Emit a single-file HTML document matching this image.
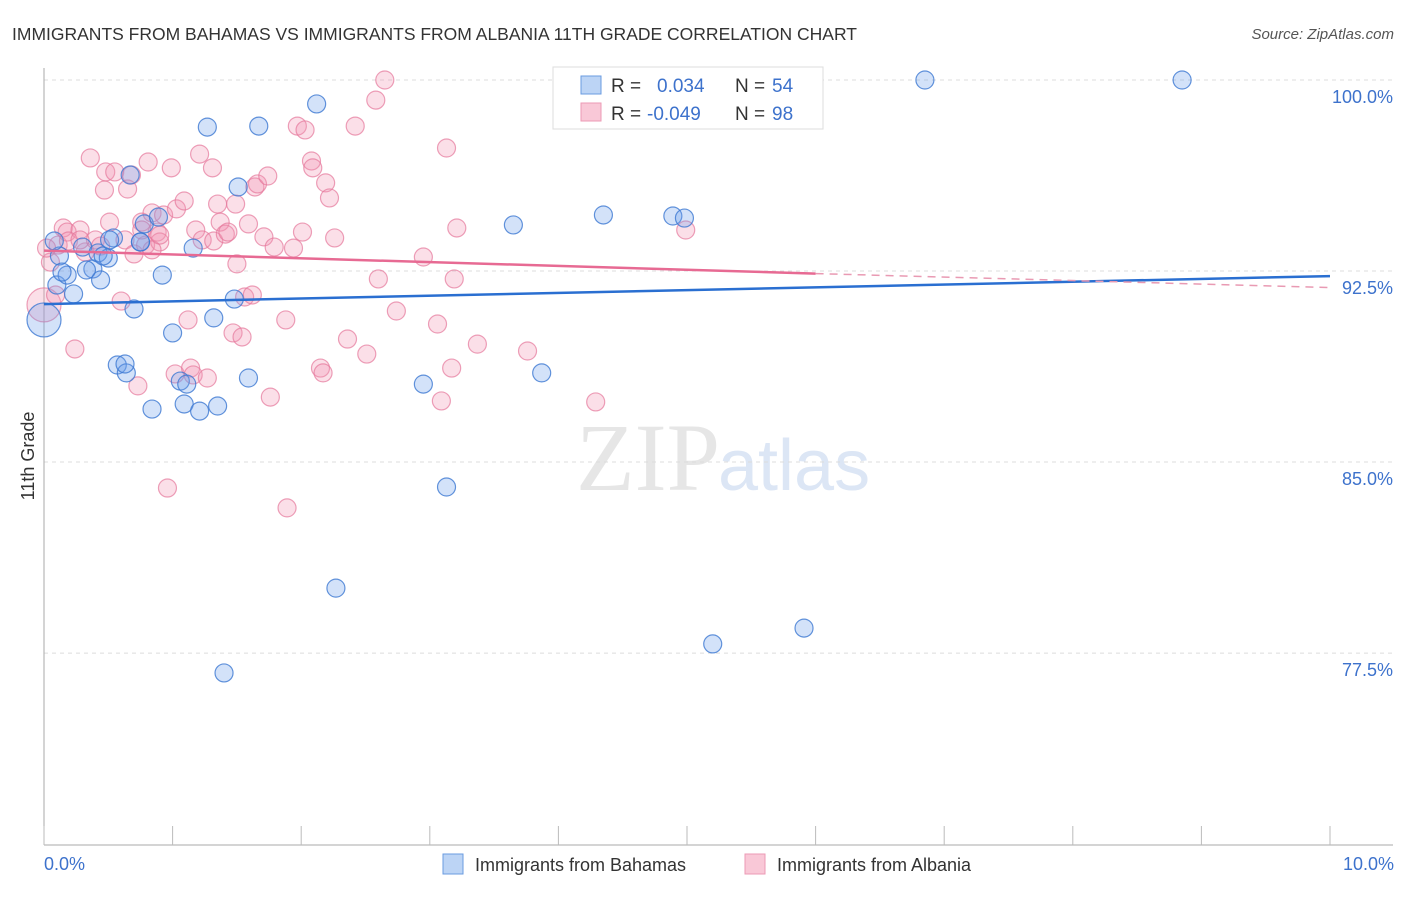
<!DOCTYPE html>
<html><head><meta charset="utf-8"><style>
body{margin:0;background:#fff;font-family:"Liberation Sans",sans-serif;}
</style></head><body>
<svg id="c" width="1406" height="892" xmlns="http://www.w3.org/2000/svg">
<text x="12" y="40" font-size="17.5" fill="#333">IMMIGRANTS FROM BAHAMAS VS IMMIGRANTS FROM ALBANIA 11TH GRADE CORRELATION CHART</text>
<text x="1394" y="39" font-size="15" fill="#555" font-style="italic" text-anchor="end">Source: ZipAtlas.com</text>
<text x="720" y="490" font-size="96" fill="#e6e6e6" text-anchor="end" font-family="Liberation Serif,serif">ZIP</text>
<text x="718" y="490" font-size="72" fill="#dce6f5">atlas</text>
<g id="grid"></g><g id="axes"></g><g id="pts"></g><g id="trend"></g>
<text transform="translate(34,456) rotate(-90)" font-size="18" fill="#333" text-anchor="middle">11th Grade</text>
<text x="44" y="870" font-size="18" fill="#3d72cc">0.0%</text>
<text x="1394" y="870" font-size="18" fill="#3d72cc" text-anchor="end">10.0%</text>
<g>
<rect x="553" y="67" width="270" height="62" fill="#fff" stroke="#ddd"/>
<rect x="581" y="76" width="20" height="18" fill="#bcd4f5" stroke="#6a9be0"/>
<rect x="581" y="103" width="20" height="18" fill="#f9c8d7" stroke="#ec9ab4"/>
<text x="611" y="92" font-size="19" fill="#333">R = </text><text x="657" y="92" font-size="19" fill="#3d72cc">0.034</text>
<text x="735" y="92" font-size="19" fill="#333">N = </text><text x="772" y="92" font-size="19" fill="#3d72cc">54</text>
<text x="611" y="120" font-size="19" fill="#333">R = </text><text x="647" y="120" font-size="19" fill="#3d72cc">-0.049</text>
<text x="735" y="120" font-size="19" fill="#333">N = </text><text x="772" y="120" font-size="19" fill="#3d72cc">98</text>
</g>
<g><rect x="443" y="854" width="20" height="20" fill="#bcd4f5" stroke="#6a9be0"/><text x="475" y="871" font-size="18" fill="#333">Immigrants from Bahamas</text></g>
<g><rect x="745" y="854" width="20" height="20" fill="#f9c8d7" stroke="#ec9ab4"/><text x="777" y="871" font-size="18" fill="#333">Immigrants from Albania</text></g>
</svg>
<script>
const yTicks=[100,92.5,85,77.5];
const yTickLabels=["100.0%","92.5%","85.0%","77.5%"];
const blueX=[0,0.10,0.12,0.23,0.18,0.08,0.14,0.30,0.38,0.42,0.44,0.50,0.54,0.67,0.57,0.64,0.63,0.70,0.75,0.78,0.89,0.84,0.92,1.00,1.06,1.09,1.11,1.16,1.21,1.27,1.32,1.35,1.48,1.51,1.59,1.67,2.12,2.27,2.95,3.13,3.65,3.87,4.35,4.89,4.98,5.20,5.91,6.85,8.85,1.40,0.46,0.33,0.51,0.75];
const blueY=[90.58,91.95,93.09,91.60,92.34,93.68,92.46,93.44,92.58,93.21,92.15,93.01,93.80,96.27,88.81,88.50,88.85,91.01,93.64,94.35,94.62,87.08,92.34,90.07,88.18,87.28,88.06,93.40,87.00,98.15,90.66,87.20,91.40,95.80,88.30,98.19,99.06,80.05,88.06,84.02,94.31,88.50,94.70,94.66,94.58,77.86,78.48,100,100,76.72,93.09,92.54,93.72,93.64];
const pinkX=[0,0.05,0.09,0.11,0.15,0.18,0.24,0.28,0.32,0.36,0.40,0.44,0.47,0.48,0.51,0.55,0.60,0.63,0.65,0.68,0.70,0.73,0.76,0.79,0.81,0.84,0.88,0.90,0.93,0.96,0.99,1.02,1.03,1.09,1.12,1.14,1.16,1.18,1.21,1.23,1.27,1.31,1.32,1.35,1.37,1.41,1.43,1.49,1.50,1.47,1.54,1.56,1.59,1.62,1.64,1.66,1.71,1.74,1.76,1.79,1.88,1.89,1.94,1.97,2.01,2.03,2.08,2.09,2.15,2.17,2.19,2.22,2.26,2.36,2.42,2.51,2.58,2.60,2.65,2.74,2.95,3.06,3.09,3.13,3.19,3.17,3.21,3.37,3.76,4.29,4.99,5.21,0.19,0.28,0.84,0.90,0.76,0.02];
const pinkY=[91.17,92.85,91.56,93.52,94.19,94.03,89.44,94.11,93.25,96.94,93.72,93.48,95.68,96.39,94.42,96.39,91.32,93.72,95.72,96.27,93.17,87.99,94.42,93.52,96.78,94.78,94.03,93.64,94.70,83.98,96.55,88.46,94.94,95.25,90.58,88.69,88.42,94.11,97.09,93.72,88.30,96.55,93.68,95.13,94.42,93.95,94.03,95.13,92.78,90.07,89.91,91.48,94.35,91.56,95.80,95.92,93.84,96.23,87.55,93.44,90.58,83.20,93.40,98.19,94.03,98.04,96.82,96.55,88.69,88.50,95.96,95.37,93.80,89.83,98.19,89.24,99.21,92.19,100,90.93,93.05,90.42,87.40,97.33,92.19,88.69,94.19,89.63,89.36,87.36,94.11,100,93.68,93.72,93.33,93.91,94.11,93.4];
const blueTrend=[[0,91.2],[10,92.3]];
const pinkTrend=[[0,93.3],[6,92.4],[10,91.85]];
const X=v=>44+v*128.6, Y=v=>80+(100-v)*25.47;
const NS="http://www.w3.org/2000/svg";
function mk(p,t,a){const e=document.createElementNS(NS,t);for(const k in a)e.setAttribute(k,a[k]);p.appendChild(e);return e;}
const grid=document.getElementById('grid'),axes=document.getElementById('axes'),pts=document.getElementById('pts'),tr=document.getElementById('trend');
yTicks.forEach((t,i)=>{const l=mk(grid,'line',{x1:44,x2:1393,y1:Y(t),y2:Y(t),stroke:'#dcdcdc','stroke-dasharray':'4,4'});


const tx=mk(grid,'text',{x:1393,y:Y(t)+23,'font-size':18,fill:'#3d72cc','text-anchor':'end'});tx.textContent=yTickLabels[i];

});
const ya=mk(axes,'line',{x1:44,x2:44,y1:68,y2:845,stroke:'#aaa'});


const xa=mk(axes,'line',{x1:44,x2:1393,y1:845,y2:845,stroke:'#aaa'});


for(let i=0;i<=10;i++){const t=mk(axes,'line',{x1:X(i),x2:X(i),y1:826,y2:845,stroke:'#bbb'});

}
function dots(xs,ys,fill,stroke,name){xs.forEach((x,i)=>{const c=mk(pts,'circle',{cx:X(x),cy:Y(ys[i]),r:(i==0?17:9),fill:fill,stroke:stroke,'stroke-width':1.2});

});}
dots(pinkX,pinkY,'rgba(242,150,180,0.3)','rgba(230,120,155,0.7)','albania-point');
dots(blueX,blueY,'rgba(110,160,235,0.3)','rgba(60,120,210,0.8)','bahamas-point');
const bl=mk(tr,'line',{x1:X(blueTrend[0][0]),y1:Y(blueTrend[0][1]),x2:X(blueTrend[1][0]),y2:Y(blueTrend[1][1]),stroke:'#2a6fd1','stroke-width':2.5});


const pl=mk(tr,'line',{x1:X(pinkTrend[0][0]),y1:Y(pinkTrend[0][1]),x2:X(pinkTrend[1][0]),y2:Y(pinkTrend[1][1]),stroke:'#e76a93','stroke-width':2.5});


const pd=mk(tr,'line',{x1:X(pinkTrend[1][0]),y1:Y(pinkTrend[1][1]),x2:X(pinkTrend[2][0]),y2:Y(pinkTrend[2][1]),stroke:'#e99ab3','stroke-width':1.5,'stroke-dasharray':'8,6'});


</script>
</body></html>
